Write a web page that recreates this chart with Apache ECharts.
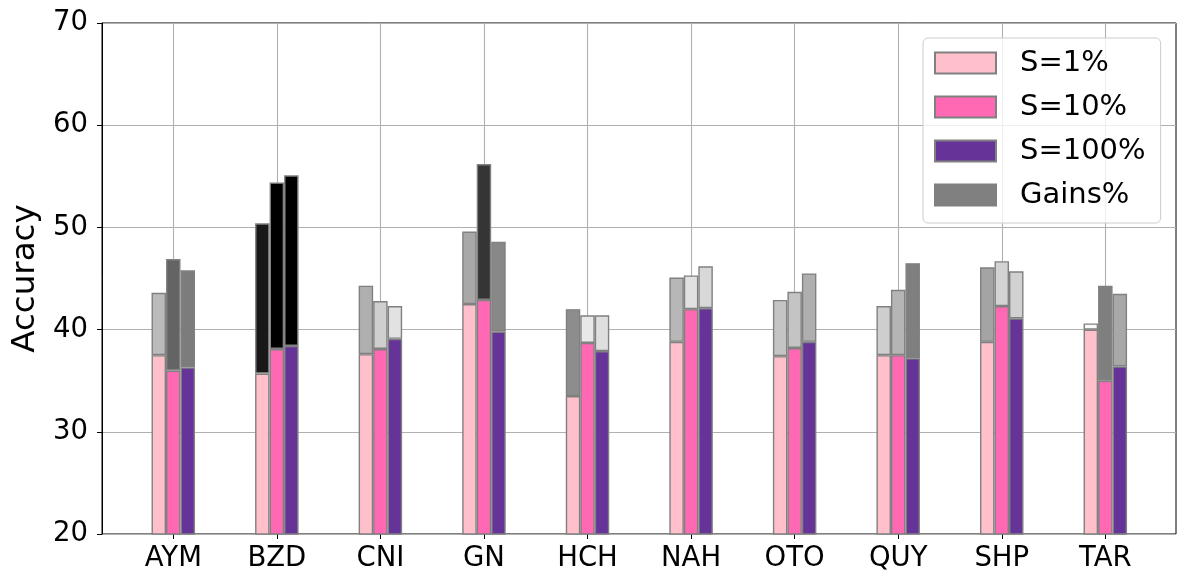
<!DOCTYPE html>
<html>
<head>
<meta charset="utf-8">
<script src="https://cdn.jsdelivr.net/npm/echarts@6/dist/echarts.min.js"></script>
<style>
html,body{margin:0;padding:0;background:#fff;}
#chart{width:1188px;height:587px;}
</style>
</head>
<body>
<div id="chart"></div>
<script>
const categories = ['AYM','BZD','CNI','GN','HCH','NAH','OTO','QUY','SHP','TAR'];
const s1Base   = [37.5,35.7,37.6,42.5,33.5,38.8,37.4,37.5,38.8,40.0];
const s1Top    = [43.6,50.4,44.3,49.6,42.0,45.1,42.9,42.3,46.1,40.6];
const s10Base  = [36.0,38.1,38.1,42.9,38.7,42.0,38.2,37.5,42.3,35.0];
const s10Top   = [46.9,54.4,42.8,56.2,41.4,45.3,43.7,43.9,46.7,44.3];
const s100Base = [36.3,38.4,39.1,39.8,37.9,42.1,38.8,37.2,41.1,36.4];
const s100Top  = [45.8,55.1,42.3,48.6,41.4,46.2,45.5,46.5,45.7,43.5];
const yTicks = [20,30,40,50,60,70];
const seriesNames = ['S=1%','S=10%','S=100%'];
const gainName = 'Gains%';

const FONT = 'DejaVu Sans';
const EDGE = '#808080';
const baseColors = ['#ffc0cb','#ff69b4','#663399'];

// matplotlib "Greys" colormap stops
const greyStops = [255,240,217,189,150,115,82,37,0];
function greyFor(gain){
  let t = Math.max(0, Math.min(1, gain / 16));
  const p = t * 8;
  const i = Math.min(7, Math.floor(p));
  const f = p - i;
  const v = Math.round(greyStops[i] + (greyStops[i+1]-greyStops[i]) * f);
  return 'rgb(' + v + ',' + v + ',' + v + ')';
}

const bases = [s1Base, s10Base, s100Base];
const tops = [s1Top, s10Top, s100Top];
const BW = 14.5;

const series = [];
for (let k = 0; k < 3; k++) {
  series.push({
    name: seriesNames[k], type: 'bar', stack: 'st' + k,
    xAxisIndex: 1, yAxisIndex: 1,
    barWidth: BW, barGap: '0%',
    itemStyle: { color: baseColors[k], borderColor: EDGE, borderWidth: 1.4 },
    emphasis: { disabled: true },
    data: bases[k]
  });
  series.push({
    name: gainName, type: 'bar', stack: 'st' + k,
    xAxisIndex: 1, yAxisIndex: 1,
    barWidth: BW, barGap: '0%',
    itemStyle: { color: '#808080', borderColor: EDGE, borderWidth: 1.4 },
    emphasis: { disabled: true },
    data: tops[k].map((t, i) => {
      const g = +(t - bases[k][i]).toFixed(2);
      return { value: g, itemStyle: { color: greyFor(g) } };
    })
  });
}

const chart = echarts.init(document.getElementById('chart'), null, { renderer: 'canvas' });
const gridTop = 23, gridBottom = 53;
chart.setOption({
  animation: false,
  backgroundColor: '#fff',
  textStyle: { fontFamily: FONT },
  grid: [
    { left: 102, right: 12, top: gridTop, bottom: gridBottom, show: true, borderColor: '#000', borderWidth: 1, backgroundColor: 'transparent' },
    { left: 121.5, width: 1035.6, top: gridTop, bottom: gridBottom }
  ],
  legend: {
    data: seriesNames.concat([gainName]),
    orient: 'vertical',
    left: 923, top: 38,
    padding: [10, 15, 13, 11],
    itemWidth: 61, itemHeight: 21, itemGap: 14,
    icon: 'rect',
    selectedMode: false,
    backgroundColor: 'rgba(255,255,255,0.8)',
    borderColor: '#cccccc', borderWidth: 1, borderRadius: 5,
    textStyle: { fontFamily: FONT, fontSize: 29, color: '#000', lineHeight: 30, padding: [0,0,0,19] }
  },
  xAxis: [
    { type: 'value', gridIndex: 0, min: 0, max: 1, show: false },
    {
      type: 'category', gridIndex: 1, data: categories, boundaryGap: true,
      axisLine: { show: false },
      axisTick: { show: true, alignWithLabel: true, length: 5, lineStyle: { color: '#000', width: 1 } },
      axisLabel: { color: '#000', fontSize: 27.5, fontFamily: FONT, margin: 11 },
      splitLine: { show: true, alignWithLabel: true, lineStyle: { color: '#b0b0b0', width: 1.1 } }
    }
  ],
  yAxis: [
    {
      type: 'value', gridIndex: 0, min: 20, max: 70, interval: 10,
      name: 'Accuracy', nameLocation: 'middle', nameGap: 57, nameRotate: 90,
      nameTextStyle: { fontFamily: FONT, fontSize: 32.5, color: '#000' },
      axisLine: { show: true, lineStyle: { color: '#000', width: 1 } },
      axisTick: { show: true, length: 5, lineStyle: { color: '#000', width: 1 } },
      axisLabel: { color: '#000', fontSize: 27.5, fontFamily: FONT, margin: 14,
        formatter: v => (yTicks.indexOf(v) >= 0 ? String(v) : '') },
      splitLine: { show: true, lineStyle: { color: '#b0b0b0', width: 1.1 } }
    },
    { type: 'value', gridIndex: 1, min: 20, max: 70, interval: 10, show: false, splitLine: { show: false } }
  ],
  series: series
});
</script>
</body>
</html>
